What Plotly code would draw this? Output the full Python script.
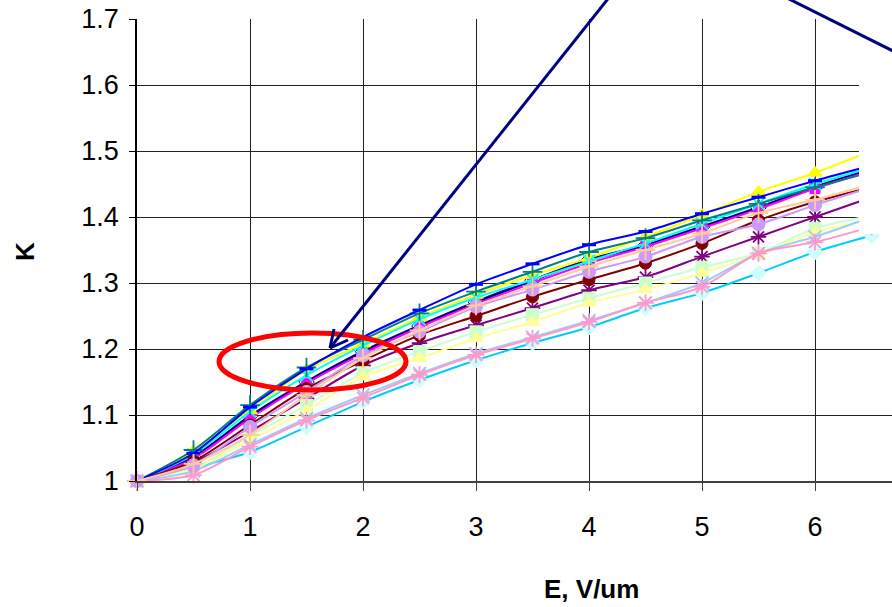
import plotly.graph_objects as go

# ---- data ----
E_values = [0, 0.5, 1, 1.5, 2, 2.5, 3, 3.5, 4, 4.5, 5, 5.5, 6, 6.5]

K_navy = [1, 1.036, 1.098, 1.150, 1.196, 1.235, 1.271, 1.304, 1.335, 1.357, 1.385, 1.414, 1.445, 1.472]
K_magenta = [1, 1.034, 1.095, 1.148, 1.193, 1.233, 1.268, 1.300, 1.330, 1.355, 1.383, 1.412, 1.443, 1.470]
K_yellow = [1, 1.045, 1.107, 1.168, 1.208, 1.248, 1.282, 1.312, 1.338, 1.370, 1.403, 1.438, 1.467, 1.500]
K_cyan = [1, 1.040, 1.105, 1.160, 1.205, 1.245, 1.278, 1.305, 1.333, 1.360, 1.390, 1.420, 1.450, 1.475]
K_purple = [1, 1.028, 1.075, 1.125, 1.175, 1.209, 1.236, 1.262, 1.289, 1.309, 1.340, 1.370, 1.400, 1.430]
K_maroon = [1, 1.030, 1.085, 1.140, 1.182, 1.221, 1.250, 1.279, 1.305, 1.330, 1.360, 1.395, 1.423, 1.445]
K_teal = [1, 1.047, 1.115, 1.172, 1.214, 1.254, 1.287, 1.317, 1.347, 1.368, 1.395, 1.420, 1.445, 1.468]
K_blue = [1, 1.042, 1.112, 1.170, 1.218, 1.259, 1.298, 1.329, 1.358, 1.378, 1.405, 1.430, 1.455, 1.478]
K_skyblue = [1, 1.020, 1.044, 1.082, 1.120, 1.153, 1.183, 1.209, 1.233, 1.262, 1.285, 1.315, 1.347, 1.372]
K_lightgreen = [1, 1.020, 1.068, 1.115, 1.164, 1.196, 1.226, 1.252, 1.277, 1.300, 1.324, 1.345, 1.383, 1.402]
K_lightyellow = [1, 1.018, 1.062, 1.107, 1.158, 1.186, 1.216, 1.241, 1.270, 1.290, 1.315, 1.343, 1.377, 1.395]
K_paleblue = [1, 1.015, 1.055, 1.095, 1.130, 1.163, 1.193, 1.218, 1.243, 1.270, 1.300, 1.345, 1.370, 1.400]
K_pink = [1, 1.009, 1.052, 1.092, 1.126, 1.161, 1.191, 1.216, 1.241, 1.270, 1.294, 1.345, 1.362, 1.385]
K_lavender = [1, 1.024, 1.082, 1.135, 1.190, 1.226, 1.264, 1.290, 1.317, 1.340, 1.370, 1.389, 1.418, 1.445]
K_tan = [1, 1.026, 1.070, 1.130, 1.186, 1.228, 1.266, 1.295, 1.325, 1.350, 1.375, 1.406, 1.426, 1.450]

x_tick_vals = [0, 1, 2, 3, 4, 5, 6, 7, 8]
x_tick_text = ["0", "1", "2", "3", "4", "5", "6", "7", "8"]
y_tick_vals = [1.0, 1.1, 1.2, 1.3, 1.4, 1.5, 1.6, 1.7]
y_tick_text = ["1", "1.1", "1.2", "1.3", "1.4", "1.5", "1.6", "1.7"]

# (values, line colour, marker symbol, marker fill, marker edge, line width, marker size)
series = [
    (K_navy, "#000080", "diamond", "#FFFFFF", "#000080", 3.0, 12),
    (K_magenta, "#FF00FF", "square", "#FF00FF", "#FF00FF", 2, 10),
    (K_yellow, "#FFFF00", "triangle-up", "#FFFF00", "#FFFF00", 2, 13),
    (K_cyan, "#00FFFF", "x-thin-open", "#00FFFF", "#00FFFF", 2, 12),
    (K_purple, "#800080", "asterisk-open", "#800080", "#800080", 2, 13),
    (K_maroon, "#800000", "circle", "#800000", "#800000", 2, 12),
    (K_teal, "#008080", "cross-thin-open", "#008080", "#008080", 2, 14),
    (K_blue, "#0000FF", "line-ew-open", "#0000FF", "#0000FF", 2, 10),
    (K_skyblue, "#00CCFF", "diamond", "#CCFFFF", "#CCFFFF", 2, 12),
    (K_lightgreen, "#CCFFCC", "square", "#CCFFCC", "#CCFFCC", 2, 12),
    (K_lightyellow, "#FFFF99", "triangle-up", "#FFFF99", "#FFFF99", 2, 13),
    (K_paleblue, "#99CCFF", "x-thin-open", "#99CCFF", "#99CCFF", 2, 13),
    (K_pink, "#FF99CC", "asterisk-open", "#FF99CC", "#FF99CC", 2, 14),
    (K_lavender, "#CC99FF", "circle", "#CC99FF", "#CC99FF", 2, 13),
    (K_tan, "#FFCC99", "cross-thin-open", "#FFCC99", "#FFCC99", 2, 14),
]

fig = go.Figure()
for vals, lc, sym, mfill, medge, lw, ms in series:
    open_sym = sym.endswith("-open")
    fig.add_trace(go.Scatter(
        x=E_values, y=vals, mode="lines+markers",
        line=dict(color=lc, width=lw, shape="spline", smoothing=0.8),
        marker=dict(symbol=sym, size=ms, color=mfill,
                    line=dict(color=medge, width=3 if sym.startswith("line") else (1.8 if open_sym else 1))),
        showlegend=False, cliponaxis=False,
    ))

# ---- layout geometry ----
W, H = 892, 607
L, R, T, B = 137, 0, 19, 126
PW, PH = W - L - R, H - T - B
px_per_unit = 113.0
x_max = PW / px_per_unit


def px(xp):
    return (xp - L) / PW


def py(yp):
    return (H - B - yp) / PH


shapes = [
    # white box covering the top-right corner
    dict(type="rect", xref="paper", yref="paper", x0=px(859), x1=px(900), y0=py(234), y1=py(-10),
         fillcolor="white", line=dict(width=0), layer="above"),
    # red ellipse
    dict(type="circle", xref="paper", yref="paper", x0=px(219), x1=px(406), y0=py(390), y1=py(333),
         line=dict(color="#FF0000", width=5), layer="above"),
    # arrow 1 shaft and head
    dict(type="line", xref="paper", yref="paper", x0=px(611), y0=py(-5), x1=px(330), y1=py(348),
         line=dict(color="#000080", width=3), layer="above"),
    dict(type="line", xref="paper", yref="paper", x0=px(330), y0=py(348), x1=px(334), y1=py(329),
         line=dict(color="#000080", width=3), layer="above"),
    dict(type="line", xref="paper", yref="paper", x0=px(330), y0=py(348), x1=px(348), y1=py(340),
         line=dict(color="#000080", width=3), layer="above"),
    # arrow 2 shaft
    dict(type="line", xref="paper", yref="paper", x0=px(783), y0=py(-4), x1=px(895), y1=py(52),
         line=dict(color="#000080", width=3), layer="above"),
]

annotations = [
    dict(text="<b>E, V/um</b>", xref="paper", yref="paper", x=px(591), y=py(589),
         showarrow=False, font=dict(family="Liberation Sans, Arial, sans-serif", size=26, color="black"),
         xanchor="center", yanchor="middle"),
    dict(text="<b>K</b>", xref="paper", yref="paper", x=px(25), y=py(251), textangle=-90,
         showarrow=False, font=dict(family="Liberation Sans, Arial, sans-serif", size=26, color="black"),
         xanchor="center", yanchor="middle"),
]

fig.update_layout(
    width=W, height=H,
    margin=dict(l=L, r=R, t=T, b=B, pad=0),
    paper_bgcolor="white", plot_bgcolor="white",
    font=dict(family="Liberation Sans, Arial, sans-serif", size=27, color="black"),
    shapes=shapes, annotations=annotations,
    xaxis=dict(range=[0, x_max], tickvals=x_tick_vals, ticktext=x_tick_text,
               showgrid=True, gridcolor="#222222", gridwidth=1,
               showline=True, linecolor="#404040", linewidth=2,
               ticks="outside", ticklen=8, tickcolor="#404040", tickwidth=1,
               ticklabelstandoff=13, zeroline=False,
               tickfont=dict(size=27, color="black")),
    yaxis=dict(range=[1.0, 1.7], tickvals=y_tick_vals, ticktext=y_tick_text,
               showgrid=True, gridcolor="#222222", gridwidth=1.2,
               showline=True, linecolor="black", linewidth=1.5,
               ticks="outside", ticklen=6, tickcolor="black", tickwidth=1,
               ticklabelstandoff=5, zeroline=False,
               tickfont=dict(size=27, color="black")),
)

fig.write_html("out.html")
